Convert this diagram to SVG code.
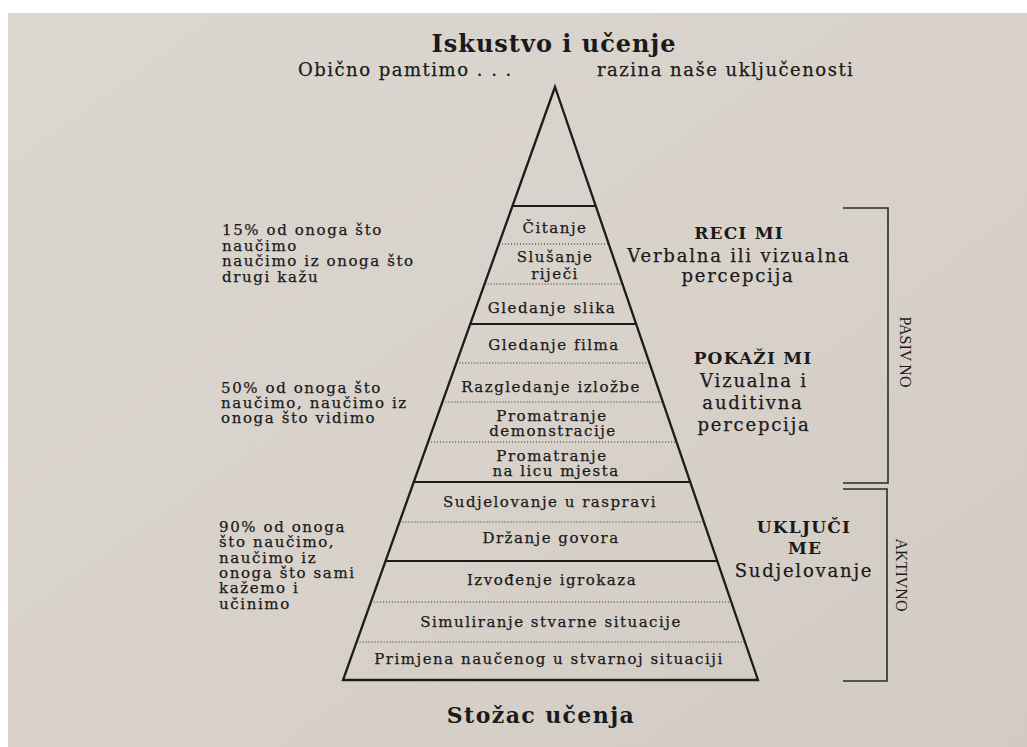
<svg xmlns="http://www.w3.org/2000/svg" width="1027" height="747" viewBox="0 0 1027 747">
<defs>
<linearGradient id="paper" x1="0" y1="0" x2="1" y2="1">
<stop offset="0" stop-color="#dbd6d0"/>
<stop offset="0.5" stop-color="#d8d2cb"/>
<stop offset="1" stop-color="#d2cbc3"/>
</linearGradient>
<style>
text{font-family:"DejaVu Serif","Liberation Serif",serif;fill:#1a1a1a;stroke:#1a1a1a;stroke-width:0.25px;}
.t{font-size:15px;letter-spacing:1.5px;text-anchor:middle;}
.l{font-size:15px;letter-spacing:1.6px;}
.h{font-size:24px;font-weight:bold;letter-spacing:1px;text-anchor:middle;stroke-width:0;}
.s{font-size:18px;letter-spacing:1.5px;}
.r{font-size:18px;letter-spacing:1.8px;text-anchor:middle;}
.rb{font-size:17px;font-weight:bold;letter-spacing:1.2px;text-anchor:middle;stroke-width:0;}
.v{font-family:"Liberation Serif",serif;font-size:16px;text-anchor:middle;stroke-width:0;}
.edge{fill:none;stroke:#1c1c1c;stroke-width:2.3;stroke-linejoin:miter;}
.solid{stroke:#1c1c1c;stroke-width:2;}
.dot{stroke:#2a2a2a;stroke-width:1.2;stroke-dasharray:1 2;}
.br{fill:none;stroke:#2a2a2a;stroke-width:1.6;}
</style>
</defs>
<rect x="0" y="0" width="1027" height="747" fill="#ffffff"/>
<rect x="8" y="13" width="1019" height="734" fill="url(#paper)"/>

<g id="title">
<text class="h" x="554" y="52">Iskustvo i učenje</text>
</g>
<g id="subtitle-left">
<text class="s" x="298" y="76">Obično pamtimo . . .</text>
</g>
<g id="subtitle-right">
<text class="s" x="597" y="76">razina naše uključenosti</text>
</g>

<g id="cone">
<polygon class="edge" points="555,87 343,680 758,680"/>
<line class="solid" x1="512.5" y1="206" x2="596" y2="206"/>
<line class="dot" x1="499" y1="244" x2="609" y2="244"/>
<line class="dot" x1="484.6" y1="284" x2="622.7" y2="284"/>
<line class="solid" x1="470.3" y1="324" x2="636.4" y2="324"/>
<line class="dot" x1="456.3" y1="363" x2="649.8" y2="363"/>
<line class="dot" x1="442.4" y1="402" x2="663.2" y2="402"/>
<line class="dot" x1="428.1" y1="442" x2="676.9" y2="442"/>
<line class="solid" x1="413.8" y1="482" x2="690.7" y2="482"/>
<line class="dot" x1="399.5" y1="522" x2="704.4" y2="522"/>
<line class="solid" x1="385.5" y1="561" x2="717.8" y2="561"/>
<line class="dot" x1="370.9" y1="602" x2="731.9" y2="602"/>
<line class="dot" x1="356.6" y1="642" x2="745.6" y2="642"/>
</g>

<g id="band-citanje"><text class="t" x="555" y="233">Čitanje</text></g>
<g id="band-slusanje"><text class="t" x="555" y="262">Slušanje</text><text class="t" x="555" y="279">riječi</text></g>
<g id="band-slike"><text class="t" x="552" y="313">Gledanje slika</text></g>
<g id="band-film"><text class="t" x="554" y="350">Gledanje filma</text></g>
<g id="band-izlozba"><text class="t" x="551" y="392">Razgledanje izložbe</text></g>
<g id="band-demonstracija"><text class="t" x="552" y="420.5">Promatranje</text><text class="t" x="553" y="435.5">demonstracije</text></g>
<g id="band-mjesto"><text class="t" x="552" y="460.5">Promatranje</text><text class="t" x="556" y="475.5">na licu mjesta</text></g>
<g id="band-rasprava"><text class="t" x="550" y="507">Sudjelovanje u raspravi</text></g>
<g id="band-govor"><text class="t" x="551" y="543">Držanje govora</text></g>
<g id="band-igrokaz"><text class="t" x="552" y="585">Izvođenje igrokaza</text></g>
<g id="band-simulacija"><text class="t" x="551" y="627">Simuliranje stvarne situacije</text></g>
<g id="band-primjena"><text class="t" x="549" y="664">Primjena naučenog u stvarnoj situaciji</text></g>

<g id="note-15">
<text class="l" x="222" y="235">15% od onoga što</text>
<text class="l" x="222" y="250.5">naučimo</text>
<text class="l" x="222" y="266">naučimo iz onoga što</text>
<text class="l" x="222" y="281.5">drugi kažu</text>
</g>
<g id="note-50">
<text class="l" x="221" y="393">50% od onoga što</text>
<text class="l" x="221" y="408">naučimo, naučimo iz</text>
<text class="l" x="221" y="423">onoga što vidimo</text>
</g>
<g id="note-90">
<text class="l" x="219" y="532">90% od onoga</text>
<text class="l" x="219" y="547">što naučimo,</text>
<text class="l" x="219" y="562.5">naučimo iz</text>
<text class="l" x="219" y="578">onoga što sami</text>
<text class="l" x="219" y="593">kažemo i</text>
<text class="l" x="219" y="608.5">učinimo</text>
</g>

<g id="label-reci">
<text class="rb" x="739" y="239">RECI MI</text>
<text class="r" x="739" y="262">Verbalna ili vizualna</text>
<text class="r" x="738" y="282">percepcija</text>
</g>
<g id="label-pokazi">
<text class="rb" x="753" y="364">POKAŽI MI</text>
<text class="r" x="754" y="387">Vizualna i</text>
<text class="r" x="753" y="409">auditivna</text>
<text class="r" x="754" y="431">percepcija</text>
</g>
<g id="label-ukljuci">
<text class="rb" x="804" y="533">UKLJUČI</text>
<text class="rb" x="805" y="554">ME</text>
<text class="r" x="804" y="577">Sudjelovanje</text>
</g>

<g id="connectors">
<polyline class="br" points="843,208 888,208 888,483 843,483"/>
<polyline class="br" points="843,489 887,489 887,681 843,681"/>
</g>

<g id="side-pasivno">
<text class="v" transform="translate(900,352) rotate(90)">PASIV<tspan dx="3">NO</tspan></text>
</g>
<g id="side-aktivno">
<text class="v" transform="translate(896,575) rotate(90)">AKTIVNO</text>
</g>

<g id="caption">
<text class="h" x="541" y="723" style="font-size:22px;letter-spacing:1.4px">Stožac učenja</text>
</g>
</svg>
